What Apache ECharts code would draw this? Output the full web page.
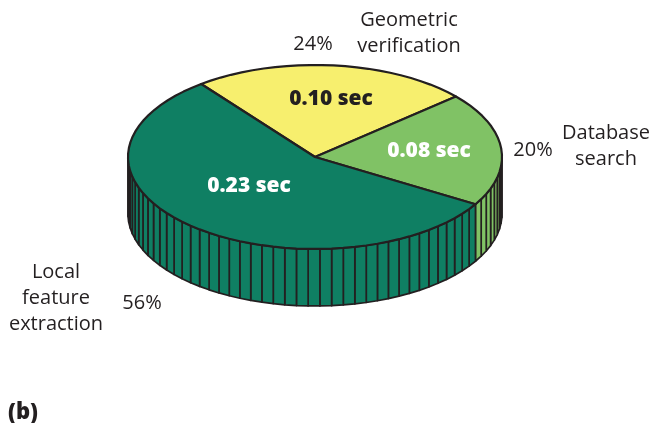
<!DOCTYPE html>
<html>
<head>
<meta charset="utf-8">
<style>html,body{margin:0;padding:0;background:#fff}#chart{width:651px;height:423px}</style>
<script src="https://cdn.jsdelivr.net/npm/echarts@6/dist/echarts.min.js"></script>
</head>
<body>
<div id="chart"></div>
<script>
// Share of the query time spent in each stage, clockwise from the upper left.
const stages = ['Geometric\nverification', 'Database\nsearch', 'Local\nfeature\nextraction'];
const shares = [24, 20, 56];
const seconds = ['0.10 sec', '0.08 sec', '0.23 sec'];
const sliceColors = ['#f7ef6e', '#80c265', '#0f7f63'];
const secondsColors = ['#231f20', '#ffffff', '#ffffff'];
const panelTag = '(b)';

// Disc geometry: an ellipse seen from above, with a faceted wall below it.
const cx = 315, cy = 157, rx = 187, ry = 92, wall = 57;
const startDeg = 127.5, degPerShare = 3.6;
const ink = '#231f20';
const font = '"Open Sans", sans-serif';

const rim = (k, drop) => {
  const a = (startDeg - k * degPerShare) * Math.PI / 180;
  return [cx + rx * Math.cos(a), cy - ry * Math.sin(a) + (drop || 0)];
};
const isFront = k => Math.sin((startDeg - k * degPerShare) * Math.PI / 180) < 0;

function renderSlice(params, api) {
  const i = params.dataIndex;
  const from = shares.slice(0, i).reduce((s, v) => s + v, 0);
  const to = from + api.value(0);
  const color = sliceColors[i];
  const children = [];
  // One wall panel per percentage point, on the near half of the disc only.
  for (let k = from; k < to; k++) {
    if (!isFront(k) && !isFront(k + 1)) continue;
    children.push({
      type: 'polygon',
      shape: { points: [rim(k), rim(k + 1), rim(k + 1, wall), rim(k, wall)] },
      style: { fill: color, stroke: ink, lineWidth: 1.7, lineJoin: 'round' }
    });
  }
  const top = [[cx, cy]];
  for (let k = from; k <= to; k++) top.push(rim(k));
  children.push({
    type: 'polygon',
    shape: { points: top },
    style: { fill: color, stroke: ink, lineWidth: 2.2, lineJoin: 'round' }
  });
  return { type: 'group', children };
}

const textEl = (text, x, y, opts) => ({
  type: 'text',
  x, y,
  z: 100,
  silent: true,
  style: Object.assign({
    text, fill: ink, font: '20px ' + font, align: 'center',
    verticalAlign: 'middle', lineHeight: 26
  }, opts || {})
});
const boldStyle = c => ({ fill: c, font: '800 21px ' + font });

const chart = echarts.init(document.getElementById('chart'), null, { renderer: 'canvas' });
chart.setOption({
  animation: false,
  backgroundColor: '#fff',
  series: [{
    type: 'custom',
    coordinateSystem: 'none',
    renderItem: renderSlice,
    data: shares.map(v => [v]),
    silent: true,
    z: 1
  }],
  graphic: { elements: [
    textEl(stages[0], 409, 33),
    textEl(shares[0] + '%', 313, 44),
    textEl(stages[1], 606, 146),
    textEl(shares[1] + '%', 533, 150),
    textEl(stages[2], 56, 298),
    textEl(shares[2] + '%', 142, 303),
    textEl(seconds[0], 331, 99, boldStyle(secondsColors[0])),
    textEl(seconds[1], 429, 151, boldStyle(secondsColors[1])),
    textEl(seconds[2], 249, 186, boldStyle(secondsColors[2])),
    textEl(panelTag, 8, 413, { font: '800 22px ' + font, align: 'left' })
  ] }
});
</script>
</body>
</html>
